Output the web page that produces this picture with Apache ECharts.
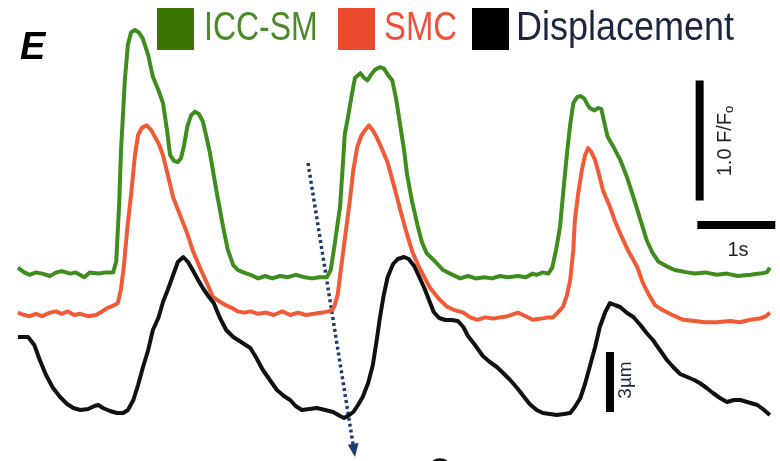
<!DOCTYPE html>
<html>
<head>
<meta charset="utf-8">
<script src="https://cdn.jsdelivr.net/npm/echarts@6/dist/echarts.min.js"></script>
<style>
  html, body { margin: 0; padding: 0; background: #fff; }
  #chart { width: 780px; height: 461px; }
</style>
</head>
<body>
<div id="chart"></div>
<script>
// time in s, fluorescence in F/F0, displacement in um
const iccTrace = [
  [0.23, 1.02], [0.31, 0.98], [0.38, 0.96], [0.46, 0.98], [0.54, 0.97], [0.64, 0.95], [0.72, 0.98],
  [0.79, 0.99], [0.90, 0.97], [0.97, 0.98], [1.08, 0.94], [1.15, 0.98], [1.26, 0.97], [1.36, 0.98],
  [1.45, 0.98], [1.49, 1.07], [1.53, 1.58], [1.55, 1.98], [1.58, 2.33], [1.60, 2.58], [1.64, 2.88],
  [1.68, 2.98], [1.73, 3.00], [1.78, 2.98], [1.83, 2.93], [1.90, 2.79], [1.96, 2.61], [2.03, 2.50],
  [2.09, 2.39], [2.14, 2.17], [2.18, 1.96], [2.23, 1.91], [2.28, 1.90], [2.32, 1.93], [2.36, 2.04],
  [2.40, 2.19], [2.45, 2.29], [2.50, 2.32], [2.55, 2.30], [2.60, 2.24], [2.65, 2.10], [2.69, 1.98],
  [2.74, 1.79], [2.78, 1.64], [2.82, 1.50], [2.86, 1.36], [2.92, 1.17], [2.99, 1.04], [3.05, 1.00],
  [3.12, 0.98], [3.21, 0.96], [3.31, 0.93], [3.40, 0.95], [3.49, 0.93], [3.59, 0.95], [3.69, 0.94],
  [3.79, 0.96], [3.90, 0.94], [4.00, 0.93], [4.10, 0.94], [4.19, 0.94], [4.24, 1.00], [4.29, 1.21],
  [4.36, 1.53], [4.40, 1.92], [4.42, 2.13], [4.46, 2.27], [4.51, 2.46], [4.55, 2.60], [4.62, 2.64],
  [4.67, 2.60], [4.71, 2.58], [4.76, 2.63], [4.81, 2.67], [4.87, 2.69], [4.92, 2.68], [4.97, 2.63],
  [5.03, 2.58], [5.08, 2.42], [5.13, 2.21], [5.18, 2.00], [5.22, 1.79], [5.28, 1.58], [5.35, 1.38],
  [5.41, 1.23], [5.47, 1.14], [5.58, 1.07], [5.68, 1.00], [5.77, 0.97], [5.90, 0.93], [6.00, 0.95],
  [6.10, 0.93], [6.21, 0.94], [6.31, 0.93], [6.41, 0.95], [6.51, 0.94], [6.64, 0.95], [6.74, 0.94],
  [6.83, 0.97], [6.88, 0.96], [6.96, 0.98], [7.03, 0.97], [7.08, 1.02], [7.13, 1.17], [7.18, 1.36],
  [7.23, 1.71], [7.27, 1.98], [7.31, 2.21], [7.35, 2.39], [7.40, 2.44], [7.44, 2.45], [7.49, 2.43],
  [7.53, 2.38], [7.56, 2.35], [7.62, 2.33], [7.67, 2.35], [7.71, 2.34], [7.74, 2.25], [7.79, 2.11],
  [7.87, 2.02], [7.95, 1.92], [8.04, 1.77], [8.12, 1.61], [8.21, 1.42], [8.29, 1.25], [8.36, 1.15],
  [8.44, 1.07], [8.55, 1.03], [8.65, 1.00], [8.81, 0.98], [8.91, 0.97], [9.04, 0.98], [9.19, 0.96],
  [9.32, 0.97], [9.46, 0.95], [9.62, 0.96], [9.74, 0.97], [9.83, 0.98], [9.87, 1.02]
];

const smcTrace = [
  [0.23, 1.02], [0.31, 1.00], [0.38, 0.99], [0.46, 1.01], [0.54, 0.99], [0.64, 1.02], [0.72, 1.03],
  [0.79, 1.01], [0.87, 1.03], [0.95, 1.00], [1.03, 1.01], [1.13, 0.99], [1.23, 1.00], [1.31, 1.03],
  [1.38, 1.06], [1.46, 1.08], [1.51, 1.10], [1.55, 1.21], [1.59, 1.42], [1.63, 1.71], [1.68, 2.00],
  [1.73, 2.33], [1.77, 2.50], [1.82, 2.56], [1.88, 2.58], [1.94, 2.54], [1.99, 2.48], [2.04, 2.42],
  [2.09, 2.33], [2.15, 2.17], [2.22, 1.98], [2.31, 1.83], [2.40, 1.68], [2.47, 1.54], [2.56, 1.40],
  [2.65, 1.27], [2.73, 1.15], [2.82, 1.11], [2.90, 1.08], [2.97, 1.06], [3.05, 1.03], [3.13, 1.02],
  [3.21, 1.03], [3.31, 1.01], [3.41, 1.02], [3.51, 1.00], [3.62, 1.03], [3.72, 1.00], [3.82, 1.02],
  [3.92, 1.00], [4.03, 1.01], [4.13, 1.02], [4.21, 1.03], [4.26, 1.04], [4.29, 1.08], [4.33, 1.17],
  [4.37, 1.38], [4.41, 1.58], [4.45, 1.78], [4.49, 1.98], [4.53, 2.21], [4.58, 2.40], [4.63, 2.49],
  [4.68, 2.54], [4.73, 2.58], [4.78, 2.54], [4.83, 2.48], [4.90, 2.38], [4.97, 2.27], [5.05, 2.08],
  [5.13, 1.88], [5.21, 1.69], [5.29, 1.52], [5.38, 1.39], [5.51, 1.23], [5.62, 1.14], [5.73, 1.07],
  [5.83, 1.04], [5.94, 1.02], [6.03, 0.98], [6.12, 0.96], [6.22, 0.98], [6.32, 0.97], [6.41, 0.98],
  [6.51, 0.99], [6.64, 1.02], [6.74, 0.99], [6.83, 0.96], [6.94, 0.97], [7.03, 0.98], [7.09, 0.98],
  [7.15, 1.02], [7.22, 1.07], [7.27, 1.17], [7.31, 1.29], [7.35, 1.54], [7.37, 1.79], [7.41, 2.00],
  [7.46, 2.21], [7.50, 2.33], [7.54, 2.39], [7.58, 2.36], [7.63, 2.29], [7.68, 2.17], [7.73, 2.04],
  [7.82, 1.90], [7.88, 1.79], [7.95, 1.68], [8.05, 1.54], [8.17, 1.40], [8.24, 1.27], [8.31, 1.18],
  [8.40, 1.08], [8.50, 1.04], [8.62, 1.00], [8.76, 0.96], [8.91, 0.95], [9.04, 0.94], [9.19, 0.94],
  [9.36, 0.95], [9.49, 0.94], [9.62, 0.96], [9.74, 0.97], [9.82, 0.99], [9.87, 1.02]
];

const dispTrace = [
  [0.23, 3.80], [0.36, 3.80], [0.44, 3.40], [0.51, 2.65], [0.59, 1.90], [0.68, 1.25], [0.77, 0.80],
  [0.86, 0.45], [0.94, 0.25], [1.03, 0.15], [1.13, 0.20], [1.21, 0.35], [1.26, 0.40], [1.32, 0.25],
  [1.41, 0.10], [1.50, 0.00], [1.58, 0.00], [1.64, 0.15], [1.71, 0.65], [1.77, 1.40], [1.83, 2.25],
  [1.90, 3.15], [1.96, 4.15], [2.03, 4.75], [2.09, 5.55], [2.15, 6.15], [2.22, 6.90], [2.28, 7.55],
  [2.35, 7.80], [2.41, 7.55], [2.47, 7.15], [2.54, 6.65], [2.60, 6.25], [2.67, 5.85], [2.74, 5.50],
  [2.82, 4.75], [2.90, 4.15], [2.99, 3.80], [3.09, 3.55], [3.21, 3.25], [3.28, 2.80], [3.37, 2.15],
  [3.46, 1.65], [3.55, 1.15], [3.64, 0.85], [3.72, 0.65], [3.79, 0.35], [3.87, 0.15], [3.97, 0.20],
  [4.06, 0.25], [4.17, 0.15], [4.27, 0.05], [4.36, -0.15], [4.41, -0.25], [4.46, -0.15], [4.53, 0.05],
  [4.59, 0.40], [4.65, 0.80], [4.72, 1.50], [4.78, 2.40], [4.83, 3.65], [4.87, 4.75], [4.92, 5.90],
  [4.97, 6.80], [5.04, 7.45], [5.10, 7.70], [5.18, 7.80], [5.24, 7.70], [5.31, 7.35], [5.37, 6.85],
  [5.44, 6.25], [5.50, 5.65], [5.56, 5.05], [5.63, 4.75], [5.71, 4.65], [5.79, 4.65], [5.87, 4.60],
  [5.94, 4.30], [6.00, 3.85], [6.09, 3.40], [6.19, 2.85], [6.28, 2.55], [6.37, 2.30], [6.45, 2.00],
  [6.54, 1.65], [6.63, 1.25], [6.71, 0.85], [6.79, 0.45], [6.88, 0.15], [6.96, 0.00], [7.05, -0.05],
  [7.14, -0.10], [7.23, -0.05], [7.31, 0.00], [7.37, 0.30], [7.44, 0.75], [7.50, 1.45], [7.56, 2.30],
  [7.63, 3.30], [7.69, 4.30], [7.76, 5.05], [7.82, 5.50], [7.88, 5.40], [7.95, 5.30], [8.04, 5.00],
  [8.12, 4.80], [8.21, 4.40], [8.29, 4.00], [8.37, 3.65], [8.46, 3.15], [8.55, 2.65], [8.63, 2.30],
  [8.72, 1.95], [8.81, 1.80], [8.90, 1.65], [8.97, 1.50], [9.06, 1.25], [9.14, 1.00], [9.23, 0.75],
  [9.32, 0.55], [9.41, 0.65], [9.49, 0.65], [9.58, 0.55], [9.71, 0.40], [9.78, 0.20], [9.87, -0.10]
];

const seriesNames = ['ICC-SM', 'SMC', 'Displacement'];
const scaleF = 1.0;   // F/F0
const scaleT = 1;     // s
const scaleD = 3;     // um

const smcOffset = -0.375;

const chart = echarts.init(document.getElementById('chart'));

const barStyle = { color: '#000', width: 8, cap: 'butt' };
const legendFont = '40px "Liberation Sans"';

// legend drawn by hand: the original uses a narrow font, squeezed here with scaleX
const legendItems = [
  { name: seriesNames[0], box: '#3b7400', text: '#4b8a2a', sx: 157, tx: 204, squeeze: 0.8 },
  { name: seriesNames[1], box: '#ea4a2e', text: '#f0503a', sx: 338, tx: 384, squeeze: 0.82 },
  { name: seriesNames[2], box: '#000', text: '#1d2540', sx: 472, tx: 516, squeeze: 0.9 }
];
const legendGraphic = [];
legendItems.forEach(it => {
  legendGraphic.push({
    type: 'rect',
    shape: { x: it.sx, y: 8, width: 37, height: 42 },
    style: { fill: it.box }
  });
  legendGraphic.push({
    type: 'text', x: it.tx, y: 29, scaleX: it.squeeze,
    style: { text: it.name, font: legendFont, fill: it.text, textAlign: 'left', textVerticalAlign: 'middle' }
  });
});

const option = {
  animation: false,
  grid: { left: 0, right: 0, top: 0, bottom: 0 },
  xAxis: { type: 'value', min: 0, max: 10, show: false },
  yAxis: [
    { type: 'value', min: -0.5917, max: 3.25, show: false },
    { type: 'value', min: -2.4, max: 20.65, show: false }
  ],
  series: [
    {
      name: seriesNames[0],
      type: 'line',
      symbol: 'none',
      lineStyle: { color: '#3f8d1f', width: 4, join: 'round' },
      data: iccTrace
    },
    {
      name: seriesNames[1],
      type: 'line',
      symbol: 'none',
      lineStyle: { color: '#f05a37', width: 4, join: 'round' },
      data: smcTrace.map(p => [p[0], p[1] + smcOffset])
    },
    {
      name: seriesNames[2],
      type: 'line',
      yAxisIndex: 1,
      symbol: 'none',
      lineStyle: { color: '#111', width: 4, join: 'round' },
      data: dispTrace
    },
    // scale bars
    {
      type: 'line', symbol: 'none', silent: true,
      lineStyle: barStyle,
      data: [[8.97, 1.58], [8.97, 1.58 + scaleF]]
    },
    {
      type: 'line', symbol: 'none', silent: true,
      lineStyle: barStyle,
      data: [[8.94, 1.375], [8.94 + scaleT, 1.375]]
    },
    {
      type: 'line', symbol: 'none', silent: true, yAxisIndex: 1,
      lineStyle: barStyle,
      data: [[7.82, 0.05], [7.82, 0.05 + scaleD]]
    }
  ],
  graphic: legendGraphic.concat([
    {
      type: 'text', left: 20, top: 30,
      style: { text: 'E', font: 'italic bold 38px "Liberation Sans"', fill: '#000' }
    },
    {
      type: 'text', x: 725, y: 141, rotation: Math.PI / 2,
      style: {
        text: scaleF.toFixed(1) + ' F/F{sub|o}',
        font: '20px "Liberation Sans"', fill: '#222',
        textAlign: 'center', textVerticalAlign: 'middle',
        rich: { sub: { fontSize: 13, fill: '#222', padding: [9, 0, 0, 0] } }
      }
    },
    {
      type: 'text', x: 738, y: 250,
      style: { text: scaleT + 's', font: '20px "Liberation Sans"', fill: '#222', textAlign: 'center', textVerticalAlign: 'middle' }
    },
    {
      type: 'text', x: 626, y: 380, rotation: Math.PI / 2,
      style: { text: scaleD + 'µm', font: '19px "Liberation Sans"', fill: '#1a2848', textAlign: 'center', textVerticalAlign: 'middle' }
    },
    // dotted arrow
    {
      type: 'line',
      shape: { x1: 308, y1: 163, x2: 353, y2: 444 },
      style: { stroke: '#1f3a70', lineWidth: 3.5, lineDash: [3, 3] }
    },
    {
      type: 'polygon',
      shape: { points: [[355, 457], [358.5, 443], [347.8, 444.8]] },
      style: { fill: '#1f3a70' }
    },
    // top of a glyph from the next panel
    {
      type: 'arc',
      shape: { cx: 440, cy: 470, r: 10, startAngle: Math.PI * 1.1, endAngle: Math.PI * 1.9 },
      style: { stroke: '#111', lineWidth: 3.5, fill: null }
    }
  ])
};

chart.setOption(option);
</script>
</body>
</html>
